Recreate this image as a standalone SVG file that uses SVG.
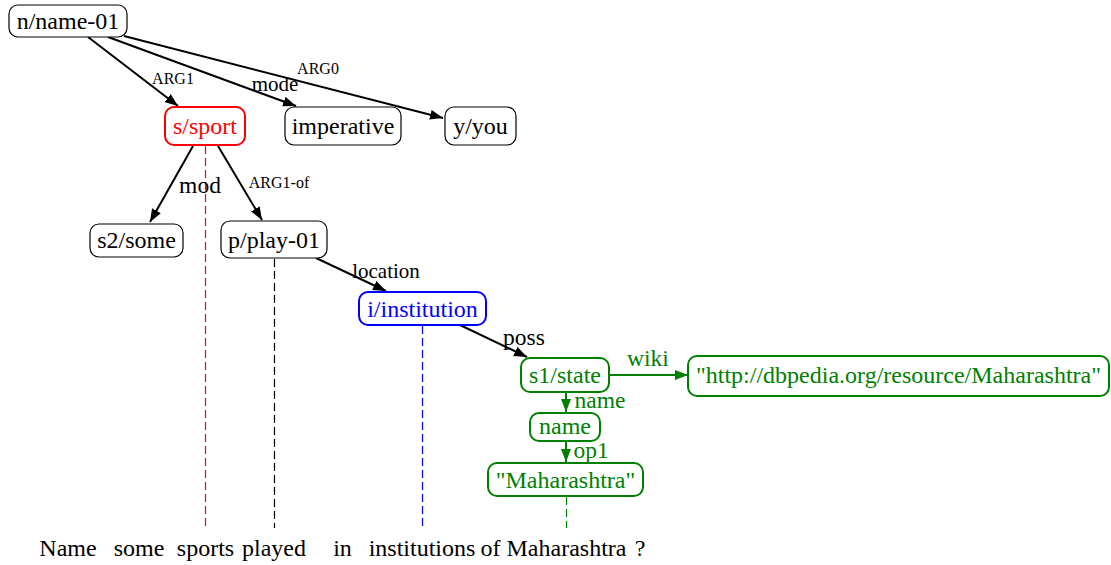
<svg xmlns="http://www.w3.org/2000/svg" width="1111" height="565" viewBox="0 0 1111 565">
<style>
text{font-family:"Liberation Serif","Times New Roman",serif;}
.nt{font-size:24px;text-anchor:middle;}
.box{fill:#fff;stroke:#000;stroke-width:1.2;}
.red{stroke:#f00;stroke-width:2;}
.blue{stroke:#00f;stroke-width:2;}
.green{stroke:#008000;stroke-width:2;}
.e{stroke:#000;stroke-width:2;fill:none;marker-end:url(#ab);}
.eg{stroke:#008000;stroke-width:2;fill:none;marker-end:url(#ag);}
.dash{stroke-width:1.2;stroke-dasharray:8,4;fill:none;}
.sm{font-size:16px;text-anchor:middle;}
.lb{font-size:23.5px;text-anchor:middle;}
.w{font-size:24px;text-anchor:middle;}
</style>
<defs>
<marker id="ab" markerUnits="userSpaceOnUse" markerWidth="14" markerHeight="10" refX="13" refY="5" orient="auto"><path d="M0,0 L13,5 L0,10 z" fill="#000"/></marker>
<marker id="ag" markerUnits="userSpaceOnUse" markerWidth="14" markerHeight="10" refX="13" refY="5" orient="auto"><path d="M0,0 L13,5 L0,10 z" fill="#008000"/></marker>
</defs>
<g id="alignments">
<line class="dash" style="stroke:#ff0000" x1="205.5" y1="146" x2="205.5" y2="528"/>
<line class="dash" style="stroke:#000000" x1="274.5" y1="259" x2="274.5" y2="528"/>
<line class="dash" style="stroke:#0000ff" x1="422.5" y1="326" x2="422.5" y2="528"/>
<line class="dash" style="stroke:#008000" x1="566.5" y1="497" x2="566.5" y2="528"/>
</g>
<g id="connectors">
<line class="e" x1="88" y1="37" x2="178" y2="106"/>
<text class="sm" x="173" y="84">ARG1</text>
<line class="e" x1="108" y1="37" x2="296" y2="106"/>
<text x="275" y="91" style="font-size:21px;text-anchor:middle">mode</text>
<line class="e" x1="124" y1="36" x2="443" y2="118"/>
<text class="sm" x="318" y="74">ARG0</text>
<line class="e" x1="193" y1="146" x2="150" y2="222"/>
<text class="lb" x="200" y="193">mod</text>
<line class="e" x1="218" y1="146" x2="262" y2="220"/>
<text class="sm" x="279" y="188">ARG1-of</text>
<line class="e" x1="316" y1="258" x2="386" y2="291"/>
<text x="386" y="278" style="font-size:21px;text-anchor:middle">location</text>
<line class="e" x1="460" y1="325" x2="527" y2="357"/>
<text class="lb" x="524" y="345">poss</text>
<line class="eg" x1="609" y1="375" x2="688" y2="375"/>
<text class="lb" x="648" y="366" fill="#008000">wiki</text>
<line class="eg" x1="566" y1="392" x2="566" y2="412"/>
<text class="lb" x="600" y="408" fill="#008000">name</text>
<line class="eg" x1="566" y1="441" x2="566" y2="462"/>
<text class="lb" x="591" y="458" fill="#008000">op1</text>
</g>
<g id="n"><rect class="box" x="9" y="5" width="118" height="32" rx="9"/><text class="nt" x="68" y="29">n/name-01</text></g>
<g id="s"><rect class="box red" x="165" y="107" width="80" height="38" rx="9"/><text class="nt" x="205" y="134" fill="#f00">s/sport</text></g>
<g id="imperative"><rect class="box" x="285" y="107" width="116" height="38" rx="9"/><text class="nt" x="343" y="134">imperative</text></g>
<g id="y"><rect class="box" x="445" y="107" width="71" height="38" rx="9"/><text class="nt" x="480.5" y="134">y/you</text></g>
<g id="s2"><rect class="box" x="90" y="224" width="93" height="33" rx="9"/><text class="nt" x="136.5" y="248">s2/some</text></g>
<g id="p"><rect class="box" x="221" y="221" width="106" height="37" rx="9"/><text class="nt" x="274" y="248">p/play-01</text></g>
<g id="i"><rect class="box blue" x="359" y="292" width="127" height="33" rx="9"/><text class="nt" x="422.5" y="317" fill="#00f">i/institution</text></g>
<g id="s1"><rect class="box green" x="521" y="358" width="88" height="34" rx="9"/><text class="nt" x="565" y="383" fill="#008000">s1/state</text></g>
<g id="wiki"><rect class="box green" x="688" y="356" width="421" height="40" rx="9"/><text class="nt" x="898.5" y="383" fill="#008000">"http://dbpedia.org/resource/Maharashtra"</text></g>
<g id="name"><rect class="box green" x="530" y="413" width="70" height="28" rx="9"/><text class="nt" x="565" y="434" fill="#008000">name</text></g>
<g id="maha"><rect class="box green" x="488" y="463" width="155" height="33" rx="9"/><text class="nt" x="565.5" y="488" fill="#008000">"Maharashtra"</text></g>
<g id="sentence">
<text class="w" x="68" y="556">Name</text>
<text class="w" x="139" y="556">some</text>
<text class="w" x="205.5" y="556">sports</text>
<text class="w" x="274" y="556">played</text>
<text class="w" x="342.5" y="556">in</text>
<text class="w" x="422" y="556">institutions</text>
<text class="w" x="490.5" y="556">of</text>
<text class="w" x="566.5" y="556">Maharashtra</text>
<text class="w" x="640" y="556">?</text>
</g>
</svg>
